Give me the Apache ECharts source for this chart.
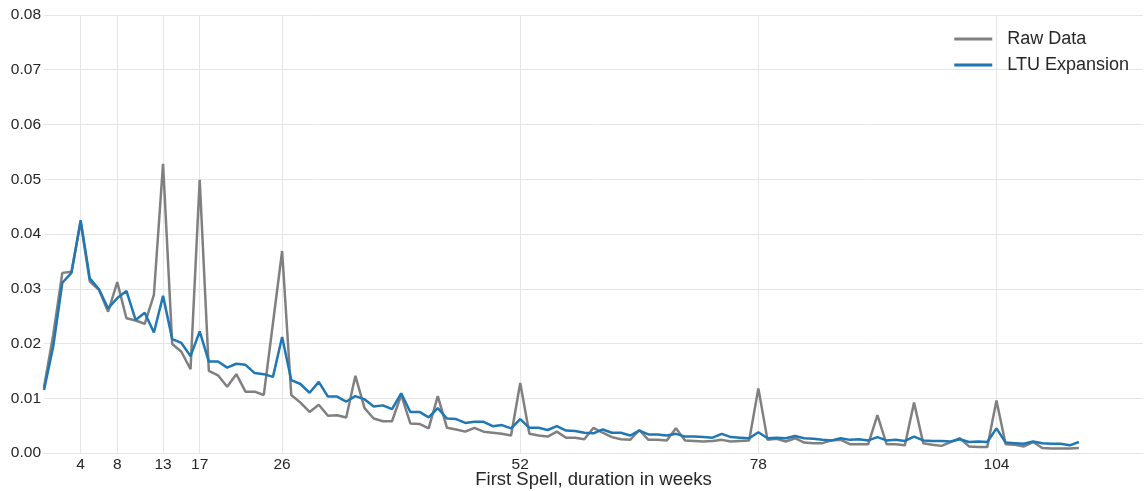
<!DOCTYPE html>
<html>
<head>
<meta charset="utf-8">
<title>First Spell duration</title>
<script src="https://cdn.jsdelivr.net/npm/echarts@6/dist/echarts.min.js"></script>
<style>
  html, body { margin: 0; padding: 0; background: #ffffff; }
  #chart { width: 1144px; height: 491px; }
</style>
</head>
<body>
<div id="chart"></div>
<script>
// Weekly hazard of the first unemployment spell, weeks 0..113
const rawData = [
  0.0120, 0.0215, 0.0329, 0.0331, 0.0422, 0.0313, 0.0298, 0.0258, 0.0312, 0.0246,
  0.0242, 0.0236, 0.0289, 0.0528, 0.0199, 0.0185, 0.0153, 0.0499, 0.0150, 0.0142,
  0.0121, 0.0144, 0.0112, 0.0112, 0.0106, 0.0237, 0.0369, 0.0106, 0.0092, 0.0075,
  0.0088, 0.0068, 0.0069, 0.0065, 0.0141, 0.0082, 0.0063, 0.0058, 0.0058, 0.0106,
  0.0054, 0.0053, 0.0045, 0.0104, 0.0046, 0.0043, 0.0039, 0.0046, 0.0039, 0.0037,
  0.0035, 0.0032, 0.0128, 0.0035, 0.0032, 0.0030, 0.0039, 0.0028, 0.0028, 0.0025,
  0.0046, 0.0037, 0.0029, 0.0025, 0.0024, 0.0042, 0.0024, 0.0024, 0.0023, 0.0045,
  0.0023, 0.0022, 0.0021, 0.0022, 0.0024, 0.0021, 0.0022, 0.0023, 0.0118, 0.0024,
  0.0026, 0.0021, 0.0027, 0.0019, 0.0018, 0.0018, 0.0023, 0.0024, 0.0016, 0.0016,
  0.0016, 0.0069, 0.0016, 0.0016, 0.0014, 0.0092, 0.0018, 0.0015, 0.0013, 0.0020,
  0.0027, 0.0012, 0.0011, 0.0011, 0.0096, 0.0016, 0.0015, 0.0012, 0.0020, 0.0009,
  0.0008, 0.0008, 0.0008, 0.0009
];

const ltuExpansion = [
  0.0115, 0.0194, 0.0311, 0.0329, 0.0425, 0.0319, 0.0299, 0.0264, 0.0283, 0.0296,
  0.0243, 0.0256, 0.0220, 0.0287, 0.0208, 0.0201, 0.0177, 0.0222, 0.0167, 0.0167,
  0.0156, 0.0163, 0.0161, 0.0146, 0.0144, 0.0139, 0.0212, 0.0133, 0.0126, 0.0110,
  0.0130, 0.0103, 0.0103, 0.0094, 0.0104, 0.0098, 0.0085, 0.0087, 0.0080, 0.0109,
  0.0075, 0.0075, 0.0065, 0.0082, 0.0063, 0.0062, 0.0055, 0.0057, 0.0057, 0.0049,
  0.0051, 0.0045, 0.0062, 0.0046, 0.0046, 0.0042, 0.0049, 0.0041, 0.0040, 0.0037,
  0.0036, 0.0043, 0.0037, 0.0037, 0.0032, 0.0041, 0.0034, 0.0034, 0.0032, 0.0035,
  0.0030, 0.0030, 0.0029, 0.0028, 0.0035, 0.0029, 0.0028, 0.0027, 0.0038, 0.0027,
  0.0028, 0.0027, 0.0031, 0.0027, 0.0026, 0.0024, 0.0023, 0.0027, 0.0024, 0.0025,
  0.0023, 0.0029, 0.0023, 0.0024, 0.0022, 0.0030, 0.0023, 0.0022, 0.0022, 0.0021,
  0.0025, 0.0020, 0.0021, 0.0020, 0.0045, 0.0019, 0.0018, 0.0017, 0.0021, 0.0018,
  0.0017, 0.0017, 0.0014, 0.0020
];

// Week marks shown on the x axis
const weekTicks = [4, 8, 13, 17, 26, 52, 78, 104];

const seriesNames = ['Raw Data', 'LTU Expansion'];
const seriesColors = ['#808080', '#1f77b4'];

const toPairs = arr => arr.map((v, i) => [i, v]);

const chart = echarts.init(document.getElementById('chart'), null, { renderer: 'canvas' });

const textColor = '#262626';
const gridColor = '#e6e6e6';
const fontFamily = 'Liberation Sans';

chart.setOption({
  animation: false,
  backgroundColor: '#ffffff',
  grid: { left: 44, right: 1, top: 15, bottom: 38, containLabel: false, outerBoundsMode: 'none' },
  legend: {
    orient: 'vertical',
    right: 10,
    top: 25,
    itemWidth: 38,
    itemHeight: 3,
    itemGap: 8,
    icon: 'rect',
    textStyle: { fontSize: 18, color: textColor, fontFamily, padding: [0, 0, 0, 10] },
    data: seriesNames
  },
  xAxis: {
    type: 'value',
    min: 0,
    max: 120,
    name: 'First Spell, duration in weeks',
    nameLocation: 'middle',
    nameGap: 17,
    nameMoveOverlap: false,
    nameTextStyle: { fontSize: 18.5, color: textColor, fontFamily, verticalAlign: 'top' },
    axisLine: { show: true, lineStyle: { color: gridColor, width: 1 } },
    axisTick: { show: false, customValues: weekTicks },
    axisLabel: { customValues: weekTicks, fontSize: 15.5, color: textColor, fontFamily, margin: 4 },
    splitLine: { show: true, lineStyle: { color: gridColor, width: 1 } }
  },
  yAxis: {
    type: 'value',
    min: 0,
    max: 0.08,
    interval: 0.01,
    axisLine: { show: false },
    axisTick: { show: false },
    axisLabel: {
      fontSize: 15.5, color: textColor, fontFamily, margin: 3,
      formatter: v => v.toFixed(2)
    },
    splitLine: { show: true, lineStyle: { color: gridColor, width: 1 } }
  },
  series: [
    {
      name: seriesNames[0],
      type: 'line',
      data: toPairs(rawData),
      showSymbol: false,
      symbol: 'none',
      lineStyle: { color: seriesColors[0], width: 2.5 },
      itemStyle: { color: seriesColors[0] },
      z: 2
    },
    {
      name: seriesNames[1],
      type: 'line',
      data: toPairs(ltuExpansion),
      showSymbol: false,
      symbol: 'none',
      lineStyle: { color: seriesColors[1], width: 2.5 },
      itemStyle: { color: seriesColors[1] },
      z: 3
    }
  ]
});
</script>
</body>
</html>
